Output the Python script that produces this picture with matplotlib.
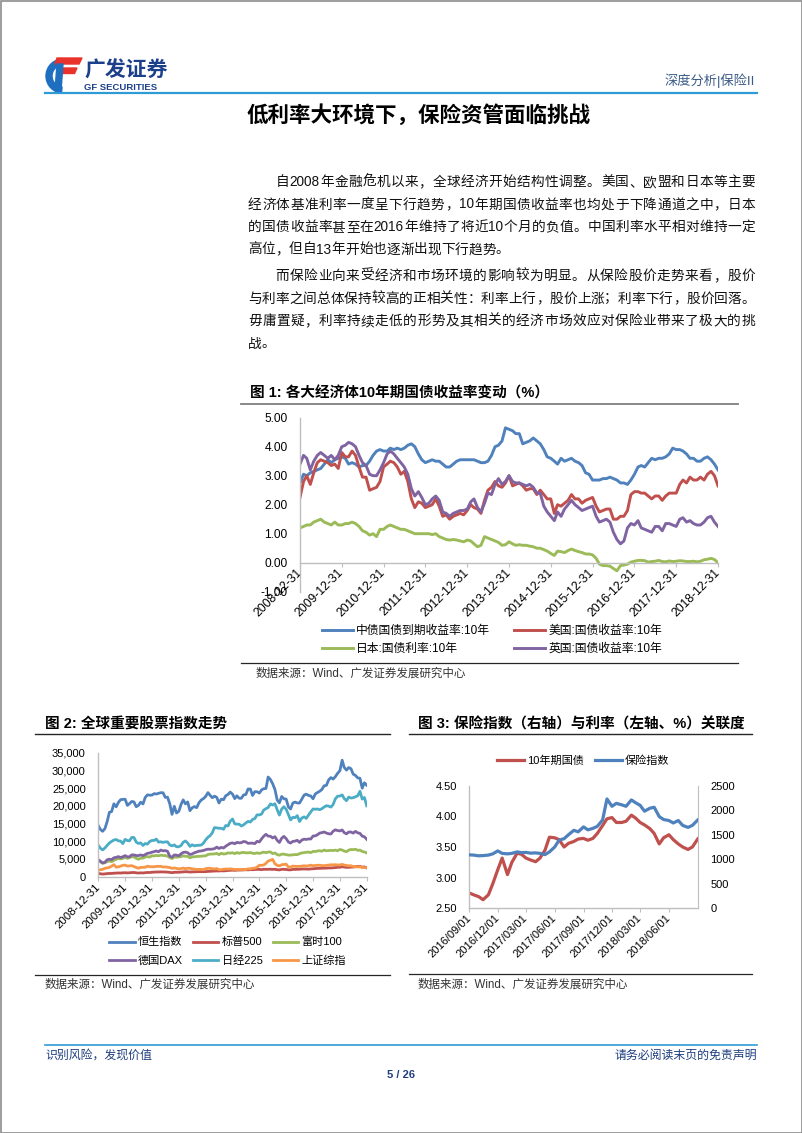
import re
import numpy as np
import pandas as pd
import matplotlib
matplotlib.use("Agg")
import matplotlib.pyplot as plt
from matplotlib.patches import Wedge, Polygon, Rectangle
from matplotlib.ticker import FuncFormatter

plt.rcParams['font.family'] = ['Liberation Sans', 'Noto Sans CJK SC']
plt.rcParams['axes.unicode_minus'] = False

W, H = 802, 1133

# -------------------------
# Daten: Abb. 1 (monatlich, 2008-12 .. 2018-12)
# -------------------------
cn_10y = [2.75,
          3.05, 3.00, 3.10, 3.15, 3.20, 3.25, 3.40, 3.55, 3.45, 3.55, 3.60, 3.65,
          3.60, 3.40, 3.45, 3.40, 3.30, 3.35, 3.35, 3.50, 3.70, 3.85, 3.90, 3.85,
          3.85, 3.95, 3.90, 3.95, 3.90, 3.95, 4.05, 4.10, 4.00, 3.75, 3.55, 3.45,
          3.50, 3.55, 3.50, 3.50, 3.40, 3.30, 3.30, 3.40, 3.50, 3.55, 3.55, 3.55,
          3.55, 3.55, 3.50, 3.45, 3.45, 3.50, 3.70, 4.00, 4.05, 4.20, 4.65, 4.60,
          4.55, 4.45, 4.45, 4.10, 4.15, 4.20, 4.30, 4.20, 4.10, 3.90, 3.65, 3.60,
          3.50, 3.40, 3.60, 3.50, 3.55, 3.60, 3.50, 3.45, 3.35, 3.10, 3.05, 2.85,
          2.85, 2.85, 2.90, 2.90, 2.95, 2.90, 2.85, 2.75, 2.75, 2.70, 2.85, 3.05,
          3.30, 3.35, 3.30, 3.45, 3.60, 3.55, 3.60, 3.60, 3.65, 3.75, 3.95, 3.90,
          3.90, 3.85, 3.75, 3.60, 3.60, 3.50, 3.50, 3.60, 3.65, 3.55, 3.40, 3.20]
us_10y = [2.25,
          2.80, 3.00, 2.70, 3.10, 3.45, 3.55, 3.50, 3.45, 3.35, 3.40, 3.25, 3.80,
          3.65, 3.65, 3.85, 3.70, 3.30, 2.95, 2.95, 2.50, 2.55, 2.60, 2.80, 3.30,
          3.40, 3.50, 3.45, 3.30, 3.05, 3.15, 2.80, 2.20, 1.90, 2.10, 2.05, 1.90,
          1.95, 2.00, 2.20, 1.95, 1.60, 1.65, 1.50, 1.60, 1.65, 1.70, 1.65, 1.80,
          2.00, 1.90, 1.85, 1.70, 2.15, 2.50, 2.60, 2.80, 2.65, 2.60, 2.75, 3.00,
          2.65, 2.70, 2.75, 2.65, 2.50, 2.55, 2.55, 2.35, 2.50, 2.35, 2.20, 2.20,
          1.70, 2.00, 1.95, 2.05, 2.15, 2.35, 2.20, 2.20, 2.05, 2.15, 2.20, 2.25,
          1.95, 1.75, 1.80, 1.85, 1.85, 1.50, 1.50, 1.60, 1.60, 1.80, 2.35, 2.45,
          2.45, 2.40, 2.40, 2.30, 2.20, 2.30, 2.30, 2.15, 2.30, 2.40, 2.40, 2.40,
          2.70, 2.85, 2.75, 2.95, 2.85, 2.85, 2.95, 2.85, 3.05, 3.15, 3.00, 2.65]
jp_10y = [1.20,
          1.25, 1.30, 1.30, 1.40, 1.45, 1.50, 1.40, 1.35, 1.30, 1.40, 1.30, 1.30,
          1.35, 1.35, 1.40, 1.35, 1.25, 1.10, 1.05, 0.95, 1.00, 0.90, 1.15, 1.15,
          1.25, 1.30, 1.25, 1.20, 1.15, 1.15, 1.10, 1.05, 1.00, 1.00, 1.00, 1.00,
          1.00, 0.97, 1.00, 0.90, 0.85, 0.80, 0.78, 0.80, 0.78, 0.75, 0.72, 0.78,
          0.75, 0.65, 0.55, 0.60, 0.90, 0.85, 0.80, 0.75, 0.70, 0.60, 0.62, 0.72,
          0.65, 0.60, 0.62, 0.60, 0.60, 0.57, 0.55, 0.50, 0.50, 0.45, 0.40, 0.32,
          0.25, 0.40, 0.38, 0.35, 0.42, 0.47, 0.42, 0.38, 0.35, 0.30, 0.30, 0.27,
          0.15, -0.05, -0.10, -0.10, -0.12, -0.20, -0.28, -0.10, -0.08, -0.05, 0.02, 0.05,
          0.08, 0.08, 0.07, 0.02, 0.04, 0.05, 0.08, 0.04, 0.03, 0.06, 0.04, 0.05,
          0.07, 0.06, 0.04, 0.04, 0.05, 0.03, 0.05, 0.10, 0.12, 0.15, 0.11, 0.00]
uk_10y = [3.40,
          3.70, 3.60, 3.20, 3.50, 3.70, 3.80, 3.70, 3.60, 3.70, 3.55, 3.70, 4.00,
          4.05, 4.15, 4.10, 4.00, 3.70, 3.45, 3.35, 3.05, 3.00, 3.00, 3.20, 3.45,
          3.75, 3.85, 3.75, 3.60, 3.45, 3.30, 3.05, 2.55, 2.30, 2.45, 2.25, 2.00,
          2.05, 2.20, 2.30, 2.15, 1.75, 1.70, 1.60, 1.70, 1.75, 1.80, 1.80, 1.85,
          2.10, 2.20, 1.90, 1.75, 2.05, 2.40, 2.35, 2.70, 2.90, 2.70, 2.80, 3.00,
          2.80, 2.75, 2.75, 2.70, 2.65, 2.70, 2.60, 2.40, 2.40, 1.95, 1.75, 1.60,
          1.45, 1.75, 1.60, 1.85, 2.00, 2.15, 2.00, 1.90, 1.80, 1.85, 1.90, 1.95,
          1.60, 1.40, 1.45, 1.50, 1.40, 1.05, 0.80, 0.65, 0.75, 1.20, 1.35, 1.30,
          1.45, 1.20, 1.15, 1.10, 1.05, 1.25, 1.25, 1.10, 1.35, 1.35, 1.30, 1.25,
          1.50, 1.55, 1.40, 1.45, 1.35, 1.30, 1.30, 1.40, 1.55, 1.60, 1.40, 1.25]
bond_labels = ["中债国债到期收益率:10年", "美国:国债收益率:10年",
               "日本:国债利率:10年", "英国:国债收益率:10年"]

# -------------------------
# Daten: Abb. 2 (Monatsende, 2008-12 .. 2018-12)
# -------------------------
hsi = [14387,
       13278, 12812, 13576, 15521, 18171, 18379, 20573, 19724, 20955, 21752, 21822, 21873,
       20122, 20609, 21239, 21108, 19765, 20129, 21030, 20536, 22358, 23096, 23008, 23035,
       23447, 23338, 23528, 23720, 23684, 22398, 22440, 20535, 17592, 19864, 17989, 18434,
       20390, 21680, 20556, 21094, 18629, 19441, 19796, 19482, 20840, 21642, 22030, 22657,
       23730, 23020, 22300, 22737, 22392, 20803, 21883, 21731, 22859, 23206, 23881, 23306,
       22035, 22837, 22151, 22134, 23082, 23191, 24757, 24742, 22933, 23998, 23987, 23605,
       24507, 24823, 24901, 28133, 27424, 26250, 24636, 21671, 20846, 22640, 21996, 21914,
       19683, 19112, 20777, 21067, 20815, 20794, 21891, 23024, 23297, 22935, 22790, 22001,
       23361, 23741, 24112, 24615, 25661, 25765, 27324, 27970, 27554, 28246, 29177, 29919,
       32887, 30845, 30093, 30808, 30469, 28955, 28583, 27889, 27789, 24980, 26507, 25846]
spx = [903,
       826, 735, 798, 873, 919, 919, 987, 1021, 1057, 1036, 1096, 1115,
       1074, 1104, 1169, 1187, 1089, 1031, 1102, 1049, 1141, 1183, 1181, 1258,
       1286, 1327, 1326, 1364, 1345, 1321, 1292, 1219, 1131, 1253, 1247, 1258,
       1312, 1366, 1408, 1398, 1310, 1362, 1379, 1407, 1441, 1412, 1416, 1426,
       1498, 1515, 1569, 1598, 1631, 1606, 1686, 1633, 1682, 1757, 1806, 1848,
       1783, 1859, 1872, 1884, 1924, 1960, 1931, 2003, 1972, 2018, 2068, 2059,
       1995, 2105, 2068, 2086, 2107, 2063, 2104, 1972, 1920, 2079, 2080, 2044,
       1940, 1932, 2060, 2065, 2097, 2099, 2174, 2171, 2168, 2126, 2199, 2239,
       2279, 2364, 2363, 2384, 2412, 2423, 2470, 2472, 2519, 2575, 2648, 2674,
       2824, 2714, 2641, 2648, 2705, 2718, 2816, 2902, 2914, 2712, 2760, 2507]
ftse = [4434,
        4150, 3830, 3926, 4244, 4418, 4249, 4608, 4909, 5134, 5045, 5191, 5413,
        5189, 5355, 5680, 5553, 5188, 4917, 5258, 5225, 5549, 5675, 5528, 5900,
        5863, 5994, 5909, 6070, 5990, 5946, 5815, 5395, 5128, 5544, 5505, 5572,
        5682, 5872, 5768, 5738, 5321, 5571, 5635, 5711, 5742, 5783, 5867, 5898,
        6277, 6361, 6412, 6430, 6583, 6215, 6621, 6413, 6462, 6731, 6651, 6749,
        6510, 6810, 6598, 6780, 6845, 6744, 6730, 6820, 6623, 6546, 6723, 6566,
        6749, 6947, 6773, 6961, 6984, 6521, 6696, 6248, 6062, 6361, 6356, 6242,
        6084, 6097, 6175, 6242, 6231, 6504, 6724, 6782, 6899, 6954, 6784, 7143,
        7099, 7263, 7323, 7204, 7520, 7313, 7372, 7431, 7373, 7493, 7327, 7688,
        7534, 7232, 7057, 7509, 7678, 7637, 7749, 7432, 7510, 7128, 6980, 6728]
dax = [4810,
       4338, 3843, 4085, 4770, 4941, 4809, 5332, 5458, 5675, 5415, 5625, 5957,
       5608, 5598, 6154, 6136, 5965, 5966, 6148, 5925, 6229, 6601, 6688, 6914,
       7077, 7273, 7041, 7514, 7294, 7376, 7159, 5785, 5502, 6141, 6089, 5898,
       6458, 6856, 6947, 6761, 6264, 6416, 6772, 6970, 7216, 7260, 7406, 7612,
       7776, 7741, 7795, 7914, 8349, 7959, 8276, 8103, 8594, 9033, 9406, 9552,
       9306, 9692, 9556, 9603, 9943, 9833, 9407, 9470, 9474, 9327, 9981, 9806,
       10694, 11401, 11966, 11454, 11414, 10945, 11309, 10259, 9660, 10850, 11382, 10743,
       9798, 9495, 9966, 10039, 10263, 9680, 10337, 10593, 10511, 10665, 10640, 11481,
       11535, 11834, 12313, 12438, 12615, 12325, 12118, 12056, 12829, 13230, 13024, 12918,
       13189, 12436, 12097, 12612, 12605, 12306, 12806, 12364, 12247, 11447, 11257, 10559]
nikkei = [8860,
          7994, 7568, 8109, 8828, 9523, 9958, 10357, 10493, 10133, 10034, 9345, 10546,
          10198, 10126, 11089, 11057, 9768, 9382, 9537, 8824, 9369, 9202, 9937, 10228,
          10237, 10624, 9755, 9849, 9693, 9816, 9833, 8955, 8700, 8988, 8434, 8455,
          8802, 9723, 10083, 9520, 8542, 9006, 8695, 8839, 8870, 8928, 9446, 10395,
          11138, 11559, 12397, 13860, 13774, 13677, 13668, 13389, 14455, 14327, 15662, 16291,
          14915, 14841, 14828, 14304, 14632, 15162, 15621, 15425, 16174, 16414, 17460, 17451,
          17674, 18798, 19207, 19520, 20563, 20236, 20585, 18890, 17388, 19083, 19747, 19034,
          17518, 16027, 16759, 16666, 17235, 15576, 16569, 16887, 16450, 17425, 18308, 19114,
          19041, 19119, 18909, 19197, 19651, 20033, 19925, 19646, 20356, 22012, 22725, 22765,
          23098, 22068, 21454, 22468, 22202, 22305, 22554, 22865, 24120, 21920, 22351, 20015]
shcomp = [1821,
          1991, 2082, 2374, 2477, 2633, 2959, 3412, 2668, 2779, 2996, 3195, 3277,
          2989, 3051, 3110, 2871, 2592, 2398, 2638, 2639, 2656, 2979, 2820, 2808,
          2791, 2905, 2928, 2911, 2743, 2762, 2701, 2568, 2359, 2468, 2333, 2199,
          2292, 2428, 2263, 2396, 2372, 2225, 2103, 2047, 2086, 2068, 1980, 2269,
          2385, 2365, 2236, 2178, 2301, 1979, 1994, 2098, 2175, 2141, 2220, 2116,
          2033, 2056, 2033, 2026, 2039, 2048, 2202, 2217, 2364, 2420, 2683, 3235,
          3210, 3310, 3748, 4442, 4612, 4900, 3664, 3206, 3053, 3383, 3446, 3539,
          2738, 2688, 3004, 2938, 2917, 2930, 2979, 3085, 3005, 3100, 3250, 3104,
          3159, 3242, 3223, 3155, 3117, 3192, 3273, 3361, 3349, 3393, 3317, 3307,
          3481, 3259, 3169, 3082, 3095, 2847, 2876, 2725, 2821, 2603, 2588, 2494]
index_labels = ["恒生指数", "标普500", "富时100", "德国DAX", "日经225", "上证综指"]

# -------------------------
# Daten: Abb. 3 (halbmonatlich, 2016-09 .. 2018-09)
# -------------------------
bond3 = [2.75, 2.72, 2.69, 2.64, 2.72, 2.90, 3.13, 3.32,
         3.05, 3.25, 3.40, 3.38, 3.32, 3.29, 3.26, 3.32, 3.45, 3.66, 3.65, 3.62,
         3.50, 3.56, 3.59, 3.63, 3.64, 3.61, 3.64, 3.72, 3.85, 3.96, 3.98, 3.90,
         3.90, 3.92, 4.02, 3.97, 3.90, 3.86, 3.80, 3.72, 3.55, 3.65, 3.70, 3.62,
         3.55, 3.50, 3.46, 3.50, 3.63]
ins3 = [1090, 1085, 1070, 1075, 1085, 1110, 1170, 1120,
        1110, 1120, 1150, 1135, 1140, 1125, 1130, 1120, 1095, 1150, 1250, 1390,
        1420, 1500, 1590, 1560, 1660, 1600, 1630, 1670, 1800, 2230, 2080, 2140,
        2110, 2080, 2210, 2150, 2100, 1980, 2040, 2060, 1870, 1810, 1790, 1740,
        1790, 1690, 1650, 1690, 1800]
fig3_labels = ["10年期国债", "保险指数"]

months = pd.date_range("2008-12-01", periods=121, freq="MS") + pd.offsets.MonthEnd(0)
dates3 = pd.date_range("2016-09-01", periods=49, freq="SMS")
q_ticks = pd.date_range("2016-09-01", periods=8, freq="3MS")

BLUE, RED, GREEN, PURPLE = "#4F81BD", "#C0504D", "#9BBB59", "#8064A2"
CYAN, ORANGE = "#4BACC6", "#F79646"
AXIS = "#BFBFBF"
HEAD = "#2F9BD6"
NAVY = "#1F3F7F"

fig = plt.figure(figsize=(W / 100, H / 100), dpi=100, facecolor="white")

page = fig.add_axes([0, 0, 1, 1])
page.set_xlim(0, W)
page.set_ylim(H, 0)
page.axis("off")


def px_axes(x0, y0, x1, y1):
    return fig.add_axes([x0 / W, 1 - y1 / H, (x1 - x0) / W, (y1 - y0) / H])


def style_axes(ax, labelsize):
    for s in ["top", "right"]:
        ax.spines[s].set_visible(False)
    for s in ["left", "bottom"]:
        ax.spines[s].set_color(AXIS)
        ax.spines[s].set_linewidth(1.0)
    ax.tick_params(axis="y", length=0, pad=9, labelsize=labelsize)
    ax.tick_params(axis="x", length=3, color=AXIS, pad=3, labelsize=labelsize)
    ax.set_facecolor("none")


def rotate_labels(ax, labels, size):
    ax.set_xticklabels(labels, rotation=45, ha="right", va="center",
                       rotation_mode="anchor", fontsize=size)


# -------------------------
# Seitenkopf
# -------------------------
page.add_patch(Rectangle((0.5, 0.5), W - 1, H - 1, fill=False, ec="#8C8C8C", lw=1.2))
page.add_patch(Wedge((63, 76), 17, 95, 265, width=6, color="#1F6FC0"))
page.add_patch(Polygon([(57, 58), (82, 58), (79, 64), (55, 64)], color="#E8322B"))
page.add_patch(Polygon([(58, 68), (77, 68), (74.5, 73.5), (57, 73.5)], color="#E8322B"))
page.add_patch(Polygon([(57, 64), (63, 64), (61, 91), (55, 91)], color="#1F6FC0"))
page.text(84, 71, "广发证券", fontsize=15, fontweight="bold", color="#1C3F8C", va="center")
page.text(84, 87.5, "GF SECURITIES", fontsize=6.8, fontweight="bold", color="#1C3F8C", va="center")
page.text(755, 81, "深度分析|保险II", fontsize=9.5, color="#3B5B86", ha="right", va="center")
page.plot([45, 757], [93, 93], color=HEAD, lw=1.6)

page.text(247, 116, "低利率大环境下，保险资管面临挑战", fontsize=15.5, fontweight="bold", va="center")

# -------------------------
# Fliesstext (Blocksatz)
# -------------------------
FS = 9.85
EM = FS * 100 / 72
LEFT, RIGHT = 248, 755

paragraphs = [
    ["自2008年金融危机以来，全球经济开始结构性调整。美国、欧盟和日本等主要",
     "经济体基准利率一度呈下行趋势，10年期国债收益率也均处于下降通道之中，日本",
     "的国债收益率甚至在2016年维持了将近10个月的负值。中国利率水平相对维持一定",
     "高位，但自13年开始也逐渐出现下行趋势。"],
    ["而保险业向来受经济和市场环境的影响较为明显。从保险股价走势来看，股价",
     "与利率之间总体保持较高的正相关性：利率上行，股价上涨；利率下行，股价回落。",
     "毋庸置疑，利率持续走低的形势及其相关的经济市场效应对保险业带来了极大的挑",
     "战。"],
]
para_y = [[182, 204.5, 227, 249.5], [276, 298.5, 321, 343.5]]


def put_line(y, line, x0, justify):
    tokens = re.findall(r"[0-9A-Za-z]+|.", line)
    widths = [len(t) * 0.556 * EM if t.isascii() else EM for t in tokens]
    gap = (RIGHT - x0 - sum(widths)) / (len(tokens) - 1) if justify else 0
    x = x0
    for t, w in zip(tokens, widths):
        page.text(x, y, t, fontsize=FS, va="center", ha="left", color="#111111")
        x += w + gap


for lines, ys in zip(paragraphs, para_y):
    for i, (line, y) in enumerate(zip(lines, ys)):
        x0 = LEFT + 2 * EM if i == 0 else LEFT
        put_line(y, line, x0, justify=(i < len(lines) - 1))

# -------------------------
# Abb. 1
# -------------------------
page.text(250, 393.5, "图 1: 各大经济体10年期国债收益率变动（%）", fontsize=10.5,
          fontweight="bold", va="center")
page.plot([241, 738], [404, 404], color="#7F7F7F", lw=1.3)
page.plot([241, 738], [663, 663], color="#262626", lw=0.9)
page.text(256, 673.5, "数据来源：Wind、广发证券发展研究中心", fontsize=8.3,
          va="center", color="#333333")

ax1 = px_axes(300, 417.7, 718, 591.7)
style_axes(ax1, 8.6)
l_cn, = ax1.plot(months, cn_10y, color=BLUE, lw=2.1)
l_us, = ax1.plot(months, us_10y, color=RED, lw=2.1)
l_jp, = ax1.plot(months, jp_10y, color=GREEN, lw=2.1)
l_uk, = ax1.plot(months, uk_10y, color=PURPLE, lw=2.1)
ax1.set_xlim(months[0], months[-1])
ax1.set_ylim(-1, 5)
ax1.set_yticks(np.arange(-1, 5.01, 1))
ax1.yaxis.set_major_formatter(FuncFormatter(lambda v, p: f"{v:.2f}"))
ax1.spines["bottom"].set_position(("data", 0))
ax1.set_xticks(months[::12])
rotate_labels(ax1, [d.strftime("%Y-%m-%d") for d in months[::12]], 8.8)

fig.legend([l_cn, l_jp, l_us, l_uk],
           [bond_labels[0], bond_labels[2], bond_labels[1], bond_labels[3]],
           ncol=2, loc="upper left", bbox_to_anchor=(322 / W, 1 - 625 / H),
           frameon=False, fontsize=8.5, handlelength=2.6, handletextpad=0.3,
           columnspacing=2.0, labelspacing=0.52, borderpad=0, borderaxespad=0)

# -------------------------
# Abb. 2
# -------------------------
page.text(45, 724, "图 2: 全球重要股票指数走势", fontsize=10.5, fontweight="bold", va="center")
page.plot([35, 390], [734, 734], color="#262626", lw=1.0)
page.plot([35, 390], [975, 975], color="#262626", lw=0.9)
page.text(45, 985, "数据来源：Wind、广发证券发展研究中心", fontsize=8.3,
          va="center", color="#333333")

ax2 = px_axes(98.3, 752.7, 366.7, 876.7)
style_axes(ax2, 8)
series2 = [hsi, spx, ftse, dax, nikkei, shcomp]
colors2 = [BLUE, RED, GREEN, PURPLE, CYAN, ORANGE]
lines2 = [ax2.plot(months, s, color=c, lw=2.0)[0] for s, c in zip(series2, colors2)]
ax2.set_xlim(months[0], months[-1])
ax2.set_ylim(0, 35000)
ax2.set_yticks(np.arange(0, 35001, 5000))
ax2.yaxis.set_major_formatter(FuncFormatter(lambda v, p: f"{v:,.0f}"))
ax2.set_xticks(months[::12])
rotate_labels(ax2, [d.strftime("%Y-%m-%d") for d in months[::12]], 8.2)

order2 = [0, 3, 1, 4, 2, 5]
fig.legend([lines2[i] for i in order2], [index_labels[i] for i in order2],
           ncol=3, loc="upper left", bbox_to_anchor=(109 / W, 1 - 937 / H),
           frameon=False, fontsize=8, handlelength=2.3, handletextpad=0.3,
           columnspacing=0.9, labelspacing=0.72, borderpad=0, borderaxespad=0)

# -------------------------
# Abb. 3
# -------------------------
page.text(418, 724, "图 3: 保险指数（右轴）与利率（左轴、%）关联度", fontsize=10.5,
          fontweight="bold", va="center")
page.plot([409, 752], [734, 734], color="#262626", lw=1.0)
page.plot([409, 752], [974, 974], color="#262626", lw=0.9)
page.text(418, 985, "数据来源：Wind、广发证券发展研究中心", fontsize=8.3,
          va="center", color="#333333")

ax3 = px_axes(469.3, 785.7, 697.7, 908.3)
style_axes(ax3, 8)
l_bond, = ax3.plot(dates3, bond3, color=RED, lw=2.3)
ax3.set_ylim(2.5, 4.5)
ax3.set_yticks(np.arange(2.5, 4.51, 0.5))
ax3.yaxis.set_major_formatter(FuncFormatter(lambda v, p: f"{v:.2f}"))
ax3.set_xlim(pd.Timestamp("2016-09-01"), pd.Timestamp("2018-09-01"))
ax3.set_xticks(q_ticks)
rotate_labels(ax3, [d.strftime("%Y/%m/%d") for d in q_ticks], 8.0)

ax3b = ax3.twinx()
l_ins, = ax3b.plot(dates3, ins3, color=BLUE, lw=2.3)
ax3b.set_ylim(0, 2500)
ax3b.set_yticks(np.arange(0, 2501, 500))
for s in ["top", "left", "bottom"]:
    ax3b.spines[s].set_visible(False)
ax3b.spines["right"].set_color(AXIS)
ax3b.tick_params(axis="y", length=0, pad=9, labelsize=8)
ax3b.set_xlim(pd.Timestamp("2016-09-01"), pd.Timestamp("2018-09-01"))

fig.legend([l_bond, l_ins], fig3_labels, ncol=2, loc="upper left",
           bbox_to_anchor=(497 / W, 1 - 755 / H), frameon=False, fontsize=8,
           handlelength=2.4, handletextpad=0.3, columnspacing=1.0,
           borderpad=0, borderaxespad=0)

# -------------------------
# Seitenfuss
# -------------------------
page.plot([45, 757], [1045, 1045], color=HEAD, lw=1.2)
page.text(45, 1056, "识别风险，发现价值", fontsize=8.6, color=NAVY, va="center")
page.text(757, 1056, "请务必阅读末页的免责声明", fontsize=8.6, color=NAVY,
          ha="right", va="center")
page.text(401, 1075, "5 / 26", fontsize=8, fontweight="bold", color=NAVY,
          ha="center", va="center")

plt.savefig("out.png", dpi=100, facecolor="white")
